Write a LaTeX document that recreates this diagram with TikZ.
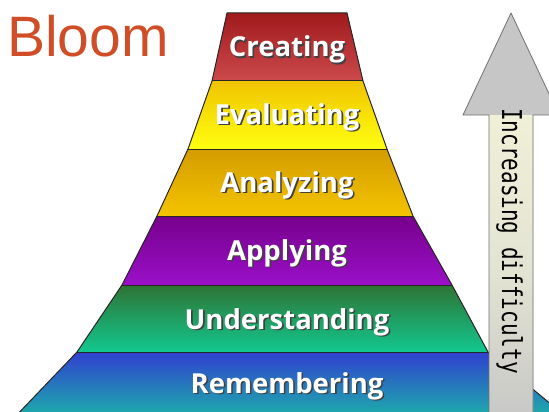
\documentclass[tikz,border=0pt]{standalone}
\usepackage{fontspec}
\setmainfont{Liberation Sans}
\newfontfamily\labelfont{Open Sans}
\newfontfamily\arrowfont{DejaVu Sans Mono}
\definecolor{bloomred}{HTML}{CF4E28}
\definecolor{creA}{HTML}{A01A1C}\definecolor{creB}{HTML}{CC4A4C}
\definecolor{evaA}{HTML}{F0C400}\definecolor{evaB}{HTML}{FFFF10}
\definecolor{anaA}{HTML}{D49C00}\definecolor{anaB}{HTML}{F4C400}
\definecolor{appA}{HTML}{76008C}\definecolor{appB}{HTML}{9A10C8}
\definecolor{undA}{HTML}{2E7434}\definecolor{undB}{HTML}{12C890}
\definecolor{remA}{HTML}{3040D0}\definecolor{remB}{HTML}{1CB4A8}
\definecolor{arrgray}{HTML}{C6C6C6}\definecolor{arrcream}{HTML}{F0F0D8}
\definecolor{arrline}{HTML}{707070}
\tikzset{
  band/.style={shading angle=25},
  bandline/.style={draw=black!85,line width=1pt},
  lbl/.style={inner sep=0pt,anchor=base,text=white,font=\labelfont\bfseries\fontsize{27.5}{27.5}\selectfont},
  lblshadow/.style={lbl,text=black!75,xshift=1.6pt,yshift=-1.6pt},
}
\newcommand\bandlabel[4]{%
  \node[lblshadow] at (#2,#3) {#4};
  \node[lbl] (#1) at (#2,#3) {#4};}
\begin{document}
\begin{tikzpicture}[x=1pt,y=-1pt]
\useasboundingbox (0,0) rectangle (549,412);
\clip (0,0) rectangle (549,412);
% pyramid corner coordinates
\coordinate (L0) at (227,13);  \coordinate (R0) at (347,13);
\coordinate (L1) at (212,81);  \coordinate (R1) at (363,81);
\coordinate (L2) at (188,149); \coordinate (R2) at (387,149);
\coordinate (L3) at (157,216); \coordinate (R3) at (413,216);
\coordinate (L4) at (122,285); \coordinate (R4) at (452,285);
\coordinate (L5) at (77,352);  \coordinate (R5) at (488,352);
\coordinate (L6) at (12,420);  \coordinate (R6) at (570,420);
% bands
\shade[band,top color=remA,bottom color=remB] (L5)--(R5)--(R6)--(L6)--cycle;
\shade[band,top color=undA,bottom color=undB] (L4)--(R4)--(R5)--(L5)--cycle;
\shade[band,top color=appA,bottom color=appB] (L3)--(R3)--(R4)--(L4)--cycle;
\shade[band,top color=anaA,bottom color=anaB] (L2)--(R2)--(R3)--(L3)--cycle;
\shade[band,top color=evaA,bottom color=evaB] (L1)--(R1)--(R2)--(L2)--cycle;
\shade[band,top color=creA,bottom color=creB] (L0)--(R0)--(R1)--(L1)--cycle;
% outlines
\draw[bandline,line join=round] (L6)--(L5)--(L4)--(L3)--(L2)--(L1)--(L0)--(R0)--(R1)--(R2)--(R3)--(R4)--(R5)--(R6);
\draw[bandline] (L1)--(R1) (L2)--(R2) (L3)--(R3) (L4)--(R4) (L5)--(R5);
% labels
\bandlabel{creating}{287}{57}{Creating}
\bandlabel{evaluating}{287}{124}{Evaluating}
\bandlabel{analyzing}{287}{192}{Analyzing}
\bandlabel{applying}{287}{260}{Applying}
\bandlabel{understanding}{287}{329}{Understanding}
\bandlabel{remembering}{287}{393}{Remembering}
% arrow
\fill[arrgray] (489,425)--(489,115)--(463,115)--(511,13)--(559,115)--(533,115)--(533,425)--cycle;
\shade[top color=arrcream,bottom color=arrgray,middle color=arrcream!70!arrgray] (489,115) rectangle (533,425);
\draw[arrline,line width=0.8pt,line join=round] (489,425)--(489,115)--(463,115)--(511,13)--(559,115)--(533,115)--(533,425);
\node[rotate=-90,anchor=base west,inner sep=0pt] (difficulty) at (502,108)
  {\arrowfont\fontsize{21}{21}\selectfont\scalebox{1}[1.3]{Increasing difficulty}};
% title
\node[anchor=base west,inner sep=0pt,text=bloomred,font=\fontsize{57}{57}\selectfont] (title) at (7,57) {Bloom};
\end{tikzpicture}
\end{document}
